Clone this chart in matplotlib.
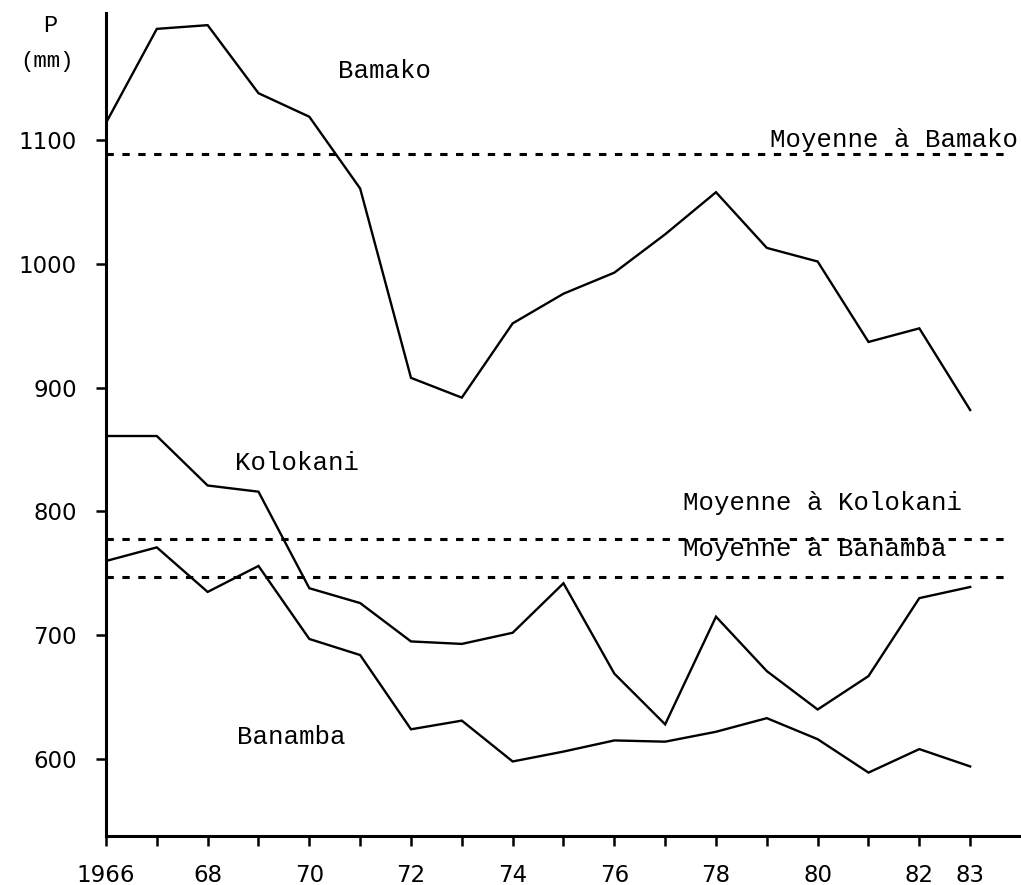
# Précipitations annuelles 1966-1983 : Bamako, Kolokani, Banamba
import matplotlib
matplotlib.use('Agg')
import matplotlib.pyplot as plt

years = list(range(1966, 1984))

bamako = [1114, 1190, 1193, 1138, 1119, 1061, 908, 892, 952, 976,
          993, 1024, 1058, 1013, 1002, 937, 948, 882]
kolokani = [861, 861, 821, 816, 738, 726, 695, 693, 702, 742,
            669, 628, 715, 671, 640, 667, 730, 739]
banamba = [760, 771, 735, 756, 697, 684, 624, 631, 598, 606,
           615, 614, 622, 633, 616, 589, 608, 594]

moy_bamako = 1089
moy_kolokani = 778
moy_banamba = 747

yticks = [600, 700, 800, 900, 1000, 1100]
xlabels = ['1966', '', '68', '', '70', '', '72', '', '74', '', '76', '',
           '78', '', '80', '', '82', '83']

mono = 'Liberation Mono'

fig = plt.figure(figsize=(10.21, 8.85), dpi=100)
ax = fig.add_axes([0.1038, 0.0554, 0.8962, 0.9296])

for serie in (bamako, kolokani, banamba):
    ax.plot(years, serie, color='black', lw=1.7, solid_joinstyle='miter')

for moy in (moy_bamako, moy_kolokani, moy_banamba):
    ax.plot([1966, 1983.8], [moy, moy], color='black', lw=2.2,
            linestyle=(0, (2.4, 2.8)))

ax.set_xlim(1966, 1984)
ax.set_ylim(537.8, 1202.6)

ax.spines['top'].set_visible(False)
ax.spines['right'].set_visible(False)
ax.spines['left'].set_linewidth(2.2)
ax.spines['bottom'].set_linewidth(2.2)

ax.set_xticks(years)
ax.set_xticklabels(xlabels)
ax.set_yticks(yticks)
ax.set_yticklabels([str(v) for v in yticks])
ax.tick_params(axis='x', direction='out', length=7, width=1.8, pad=13,
               labelsize=16.5)
ax.tick_params(axis='y', direction='out', length=7, width=1.8, pad=14,
               labelsize=16.5)

# textes
fig.text(50 / 1021, 1 - 25 / 885, 'P', family=mono, fontsize=17,
         ha='center', va='center')
fig.text(47 / 1021, 1 - 61 / 885, '(mm)', family=mono, fontsize=16,
         ha='center', va='center')

ax.text(1971.48, 1156, 'Bamako', family=mono, fontsize=18.5, ha='center',
        va='center')
ax.text(1983.95, 1100, 'Moyenne à Bamako', family=mono, fontsize=18.5,
        ha='right', va='center')
ax.text(1969.75, 839, 'Kolokani', family=mono, fontsize=18.5, ha='center',
        va='center')
ax.text(1969.65, 618, 'Banamba', family=mono, fontsize=18.5, ha='center',
        va='center')
ax.text(1977.35, 807, 'Moyenne à Kolokani', family=mono, fontsize=18.5,
        ha='left', va='center')
ax.text(1977.35, 770, 'Moyenne à Banamba', family=mono, fontsize=18.5,
        ha='left', va='center')

fig.savefig('out.png', dpi=100)
